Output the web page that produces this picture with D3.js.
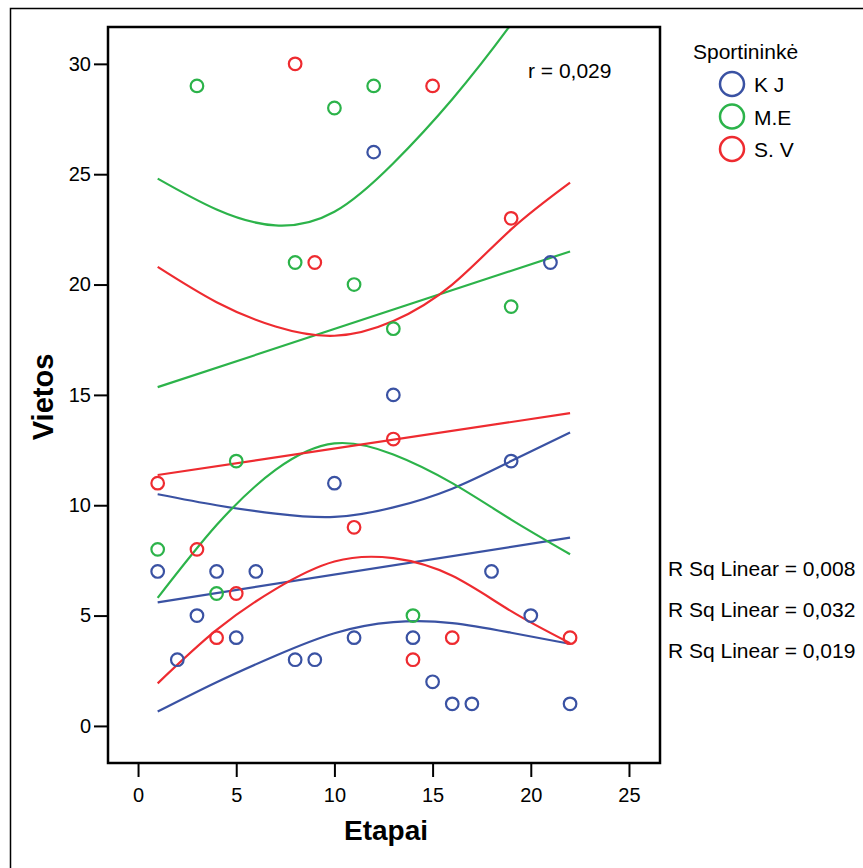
<!DOCTYPE html>
<html>
<head>
<meta charset="utf-8">
<script src="https://cdnjs.cloudflare.com/ajax/libs/d3/7.8.5/d3.min.js"></script>
<style>
  body { margin:0; background:#fff; }
  text { font-family: "Liberation Sans", Arial, sans-serif; }
</style>
</head>
<body>
<div id="wrapper"></div>
<script>
// points: [Etapai, Vietos]
var kjPoints = [[1,7],[2,3],[3,5],[4,7],[5,4],[6,7],[8,3],[9,3],[10,11],[11,4],[12,26],[13,15],[14,4],[15,2],[16,1],[17,1],[18,7],[19,12],[20,5],[21,21],[22,1]]
var mePoints = [[1,8],[3,29],[4,6],[5,12],[8,21],[10,28],[11,20],[12,29],[13,18],[14,5],[19,19]]
var svPoints = [[1,11],[3,8],[4,4],[5,6],[8,30],[9,21],[11,9],[13,13],[14,3],[15,29],[16,4],[19,23],[22,4]]

// fit lines (x = 1, 4, 7, ... 22)
var fitX = [1,4,7,10,13,16,19,22]
var kjLinear = [5.6,8.53]
var kjCurveA = [10.5,10.0,9.62,9.47,9.9,10.75,12.0,13.3]
var kjCurveB = [0.65,1.98,3.18,4.2,4.7,4.66,4.22,3.72]
var meLinear = [15.35,21.5]
var meCurveA = [24.8,23.4,22.68,23.3,25.5,28.4,31.8,35.6]
var meCurveB = [5.8,9.1,11.6,12.8,12.3,11.0,9.35,7.78]
var svLinear = [11.37,14.17]
var svCurveA = [20.8,19.2,18.1,17.68,18.35,20.0,22.5,24.62]
var svCurveB = [1.93,4.35,6.2,7.45,7.6,6.8,5.2,3.75]

var groups = ["K J","M.E","S. V"]
var groupColors = ["#3a52a3","#2cb34a","#ee2b30"]
var rSqLabels = ["R Sq Linear = 0,008","R Sq Linear = 0,032","R Sq Linear = 0,019"]
var rLabel = "r = 0,029"
var xTicks = [0,5,10,15,20,25]
var yTicks = [0,5,10,15,20,25,30]

var dimensions = {width:863, height:868, margin:{top:27, left:108, right:203, bottom:105}}
var boundWidth = dimensions.width - dimensions.margin.left - dimensions.margin.right
var boundHeight = dimensions.height - dimensions.margin.top - dimensions.margin.bottom

var wrapper = d3.select("#wrapper").append("svg")
  .attr("width", dimensions.width)
  .attr("height", dimensions.height)

// outer border
wrapper.append("rect")
  .attr("x",10.5).attr("y",8.5)
  .attr("width",dimensions.width).attr("height",dimensions.height)
  .attr("fill","none").attr("stroke","#000").attr("stroke-width",1.5)

var bounds = wrapper.append("g")
  .attr("transform",`translate(${dimensions.margin.left},${dimensions.margin.top})`)

var xScale = d3.scaleLinear().domain([-1.53,26.58]).range([0,boundWidth])
var yScale = d3.scaleLinear().domain([-1.68,31.67]).range([boundHeight,0])

bounds.append("clipPath").attr("id","clip")
  .append("rect").attr("width",boundWidth).attr("height",boundHeight)

// axes
var xAxis = bounds.append("g")
  .attr("transform",`translate(0,${boundHeight})`)
  .call(d3.axisBottom(xScale).tickValues(xTicks).tickSize(14).tickPadding(11).tickSizeOuter(0))
var yAxis = bounds.append("g")
  .call(d3.axisLeft(yScale).tickValues(yTicks).tickSize(14).tickPadding(3).tickSizeOuter(0))
bounds.selectAll(".domain").remove()
bounds.selectAll(".tick line").attr("stroke","#000").attr("stroke-width",2)
bounds.selectAll(".tick text").attr("font-size",20).attr("fill","#000")
  .style("font-family","'Liberation Sans', Arial, sans-serif")

// fit lines
var line = d3.line().x(d => xScale(d[0])).y(d => yScale(d[1])).curve(d3.curveNatural)
var toPts = vals => vals.length == 2 ? [[1,vals[0]],[22,vals[1]]] : vals.map((v,i) => [fitX[i],v])
var fits = [
  [kjLinear,0],[kjCurveA,0],[kjCurveB,0],
  [meLinear,1],[meCurveA,1],[meCurveB,1],
  [svLinear,2],[svCurveA,2],[svCurveB,2]
]
var lines = bounds.append("g").attr("clip-path","url(#clip)")
lines.selectAll("path")
  .data(fits)
  .enter().append("path")
    .attr("d",d => line(toPts(d[0])))
    .attr("fill","none")
    .attr("stroke",d => groupColors[d[1]])
    .attr("stroke-width",2.2)

// points
var pointSets = [kjPoints, mePoints, svPoints]
pointSets.forEach(function(pts,i){
  bounds.append("g").selectAll("circle")
    .data(pts)
    .enter().append("circle")
      .attr("cx",d => xScale(d[0]))
      .attr("cy",d => yScale(d[1]))
      .attr("r",6.3)
      .attr("fill","none")
      .attr("stroke",groupColors[i])
      .attr("stroke-width",2.2)
})

// plot frame
bounds.append("rect")
  .attr("width",boundWidth).attr("height",boundHeight)
  .attr("fill","none").attr("stroke","#000").attr("stroke-width",2.5)

wrapper.append("text")
  .attr("x",528).attr("y",78)
  .attr("font-size",21).text(rLabel)

// axis titles
wrapper.append("text")
  .attr("x",386).attr("y",840)
  .attr("text-anchor","middle").attr("font-size",28).attr("font-weight","bold")
  .text("Etapai")
wrapper.append("text")
  .attr("transform","translate(53,397) rotate(-90)")
  .attr("text-anchor","middle").attr("font-size",29).attr("font-weight","bold")
  .text("Vietos")

// legend
var legend = wrapper.append("g")
legend.append("text").attr("x",693).attr("y",59).attr("font-size",21).text("Sportininkė")
var items = legend.selectAll("g.item")
  .data(groups)
  .enter().append("g")
    .attr("transform",(d,i) => `translate(732,${84 + i*32.5})`)
items.append("circle").attr("r",12).attr("fill","none")
  .attr("stroke",(d,i) => groupColors[i]).attr("stroke-width",2.5)
items.append("text").attr("x",22).attr("y",8).attr("font-size",21).text(d => d)

wrapper.selectAll("text.rsq")
  .data(rSqLabels)
  .enter().append("text")
    .attr("class","rsq")
    .attr("x",668).attr("y",(d,i) => 576 + i*41)
    .attr("font-size",21)
    .text(d => d)
</script>
</body>
</html>
